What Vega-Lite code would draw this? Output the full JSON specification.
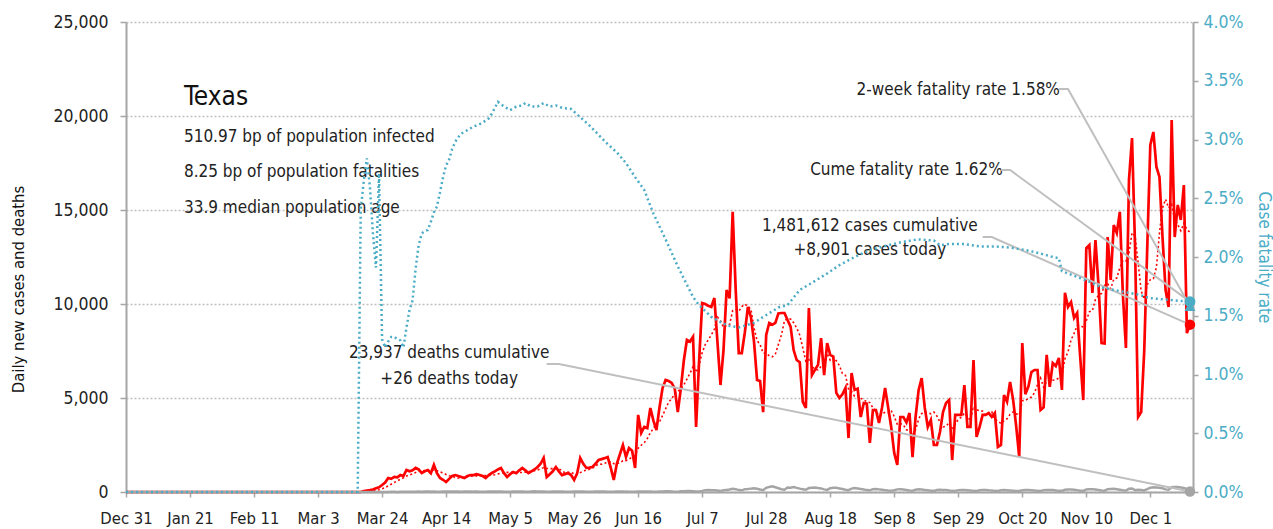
{
"$schema":"https://vega.github.io/schema/vega-lite/v6.json",
"width":1067,"height":470,
"autosize":{"type":"none"},
"padding":{"left":126,"top":22,"right":80,"bottom":37},
"background":"white",
"config":{"font":"DejaVu Sans Condensed, DejaVu Sans, sans-serif","view":{"stroke":null}},
"datasets":{
"daily":[
{"date":"2019-12-31","cases":0,"deaths":0},{"date":"2020-02-01","cases":0,"deaths":0},{"date":"2020-03-01","cases":0,"deaths":0},{"date":"2020-03-10","cases":0,"deaths":0},{"date":"2020-03-17","cases":0,"deaths":0},
{"date":"2020-03-18","cases":50,"deaths":0},{"date":"2020-03-19","cases":80,"deaths":1},{"date":"2020-03-20","cases":100,"deaths":2},{"date":"2020-03-21","cases":130,"deaths":1},{"date":"2020-03-22","cases":200,"deaths":3},{"date":"2020-03-23","cases":250,"deaths":2},{"date":"2020-03-24","cases":370,"deaths":5},{"date":"2020-03-25","cases":500,"deaths":4},{"date":"2020-03-26","cases":745,"deaths":6},{"date":"2020-03-27","cases":700,"deaths":7},{"date":"2020-03-28","cases":800,"deaths":8},{"date":"2020-03-29","cases":780,"deaths":5},{"date":"2020-03-30","cases":900,"deaths":10},{"date":"2020-03-31","cases":850,"deaths":12},
{"date":"2020-04-01","cases":1170,"deaths":10},{"date":"2020-04-02","cases":1100,"deaths":14},{"date":"2020-04-03","cases":1150,"deaths":12},{"date":"2020-04-04","cases":1280,"deaths":15},{"date":"2020-04-05","cases":1200,"deaths":20},{"date":"2020-04-06","cases":1010,"deaths":18},{"date":"2020-04-07","cases":1100,"deaths":22},{"date":"2020-04-08","cases":1170,"deaths":25},{"date":"2020-04-09","cases":1000,"deaths":20},{"date":"2020-04-10","cases":1440,"deaths":27},{"date":"2020-04-11","cases":1000,"deaths":15},{"date":"2020-04-12","cases":745,"deaths":12},{"date":"2020-04-13","cases":650,"deaths":23},{"date":"2020-04-14","cases":530,"deaths":25},{"date":"2020-04-15","cases":700,"deaths":24},{"date":"2020-04-16","cases":850,"deaths":28},{"date":"2020-04-17","cases":900,"deaths":22},{"date":"2020-04-18","cases":850,"deaths":20},{"date":"2020-04-19","cases":800,"deaths":14},{"date":"2020-04-20","cases":745,"deaths":25},{"date":"2020-04-21","cases":850,"deaths":24},{"date":"2020-04-22","cases":900,"deaths":28},{"date":"2020-04-23","cases":900,"deaths":20},{"date":"2020-04-24","cases":950,"deaths":25},{"date":"2020-04-25","cases":900,"deaths":18},{"date":"2020-04-26","cases":850,"deaths":12},{"date":"2020-04-27","cases":745,"deaths":15},{"date":"2020-04-28","cases":900,"deaths":32},{"date":"2020-04-29","cases":1010,"deaths":30},{"date":"2020-04-30","cases":1100,"deaths":28},
{"date":"2020-05-01","cases":1200,"deaths":25},{"date":"2020-05-02","cases":1280,"deaths":28},{"date":"2020-05-03","cases":1000,"deaths":15},{"date":"2020-05-04","cases":800,"deaths":12},{"date":"2020-05-05","cases":950,"deaths":20},{"date":"2020-05-06","cases":1060,"deaths":30},{"date":"2020-05-07","cases":1000,"deaths":32},{"date":"2020-05-08","cases":1150,"deaths":28},{"date":"2020-05-09","cases":1280,"deaths":25},{"date":"2020-05-10","cases":1150,"deaths":12},{"date":"2020-05-11","cases":1010,"deaths":15},{"date":"2020-05-12","cases":1100,"deaths":30},{"date":"2020-05-13","cases":1200,"deaths":35},{"date":"2020-05-14","cases":1330,"deaths":28},{"date":"2020-05-15","cases":1500,"deaths":32},{"date":"2020-05-16","cases":1810,"deaths":22},{"date":"2020-05-17","cases":800,"deaths":12},{"date":"2020-05-18","cases":950,"deaths":20},{"date":"2020-05-19","cases":1100,"deaths":28},{"date":"2020-05-20","cases":1330,"deaths":25},{"date":"2020-05-21","cases":1100,"deaths":30},{"date":"2020-05-22","cases":900,"deaths":22},{"date":"2020-05-23","cases":950,"deaths":15},{"date":"2020-05-24","cases":1010,"deaths":10},{"date":"2020-05-25","cases":900,"deaths":12},{"date":"2020-05-26","cases":640,"deaths":30},{"date":"2020-05-27","cases":1000,"deaths":28},{"date":"2020-05-28","cases":1810,"deaths":25},{"date":"2020-05-29","cases":1500,"deaths":22},{"date":"2020-05-30","cases":1280,"deaths":18},{"date":"2020-05-31","cases":1300,"deaths":15},
{"date":"2020-06-01","cases":1330,"deaths":12},{"date":"2020-06-02","cases":1500,"deaths":25},{"date":"2020-06-03","cases":1700,"deaths":30},{"date":"2020-06-04","cases":1750,"deaths":28},{"date":"2020-06-05","cases":1800,"deaths":22},{"date":"2020-06-06","cases":1860,"deaths":18},{"date":"2020-06-07","cases":1300,"deaths":10},{"date":"2020-06-08","cases":640,"deaths":15},{"date":"2020-06-09","cases":1500,"deaths":30},{"date":"2020-06-10","cases":2000,"deaths":25},{"date":"2020-06-11","cases":2500,"deaths":28},{"date":"2020-06-12","cases":1860,"deaths":20},{"date":"2020-06-13","cases":2340,"deaths":18},{"date":"2020-06-14","cases":2200,"deaths":12},{"date":"2020-06-15","cases":1280,"deaths":10},{"date":"2020-06-16","cases":4100,"deaths":30},{"date":"2020-06-17","cases":3140,"deaths":28},{"date":"2020-06-18","cases":3460,"deaths":32},{"date":"2020-06-19","cases":3400,"deaths":25},{"date":"2020-06-20","cases":4470,"deaths":20},{"date":"2020-06-21","cases":3800,"deaths":15},{"date":"2020-06-22","cases":3300,"deaths":12},{"date":"2020-06-23","cases":4500,"deaths":30},{"date":"2020-06-24","cases":5530,"deaths":32},{"date":"2020-06-25","cases":5960,"deaths":35},{"date":"2020-06-26","cases":5900,"deaths":40},{"date":"2020-06-27","cases":5800,"deaths":28},{"date":"2020-06-28","cases":5500,"deaths":10},{"date":"2020-06-29","cases":4250,"deaths":15},{"date":"2020-06-30","cases":5500,"deaths":40},
{"date":"2020-07-01","cases":7020,"deaths":45},{"date":"2020-07-02","cases":8090,"deaths":50},{"date":"2020-07-03","cases":8000,"deaths":48},{"date":"2020-07-04","cases":8250,"deaths":40},{"date":"2020-07-05","cases":3460,"deaths":25},{"date":"2020-07-06","cases":7000,"deaths":30},{"date":"2020-07-07","cases":10050,"deaths":60},{"date":"2020-07-08","cases":10000,"deaths":95},{"date":"2020-07-09","cases":9900,"deaths":105},{"date":"2020-07-10","cases":9840,"deaths":95},{"date":"2020-07-11","cases":10320,"deaths":90},{"date":"2020-07-12","cases":8000,"deaths":80},{"date":"2020-07-13","cases":5690,"deaths":60},{"date":"2020-07-14","cases":7550,"deaths":90},{"date":"2020-07-15","cases":10740,"deaths":110},{"date":"2020-07-16","cases":10300,"deaths":130},{"date":"2020-07-17","cases":14900,"deaths":175},{"date":"2020-07-18","cases":10740,"deaths":150},{"date":"2020-07-19","cases":7390,"deaths":100},{"date":"2020-07-20","cases":7390,"deaths":90},{"date":"2020-07-21","cases":8500,"deaths":150},{"date":"2020-07-22","cases":9840,"deaths":160},{"date":"2020-07-23","cases":9300,"deaths":180},{"date":"2020-07-24","cases":8000,"deaths":200},{"date":"2020-07-25","cases":5960,"deaths":170},{"date":"2020-07-26","cases":5900,"deaths":130},{"date":"2020-07-27","cases":4250,"deaths":95},{"date":"2020-07-28","cases":8350,"deaths":220},{"date":"2020-07-29","cases":8990,"deaths":270},{"date":"2020-07-30","cases":8900,"deaths":300},{"date":"2020-07-31","cases":9000,"deaths":250},
{"date":"2020-08-01","cases":9500,"deaths":200},{"date":"2020-08-02","cases":9520,"deaths":150},{"date":"2020-08-03","cases":9520,"deaths":120},{"date":"2020-08-04","cases":9150,"deaths":240},{"date":"2020-08-05","cases":8800,"deaths":230},{"date":"2020-08-06","cases":7550,"deaths":260},{"date":"2020-08-07","cases":7020,"deaths":220},{"date":"2020-08-08","cases":6900,"deaths":180},{"date":"2020-08-09","cases":4790,"deaths":150},{"date":"2020-08-10","cases":4470,"deaths":120},{"date":"2020-08-11","cases":9790,"deaths":210},{"date":"2020-08-12","cases":6220,"deaths":230},{"date":"2020-08-13","cases":6500,"deaths":240},{"date":"2020-08-14","cases":6760,"deaths":210},{"date":"2020-08-15","cases":8190,"deaths":190},{"date":"2020-08-16","cases":6220,"deaths":140},{"date":"2020-08-17","cases":7920,"deaths":110},{"date":"2020-08-18","cases":7290,"deaths":200},{"date":"2020-08-19","cases":7200,"deaths":230},{"date":"2020-08-20","cases":5270,"deaths":220},{"date":"2020-08-21","cases":5000,"deaths":190},{"date":"2020-08-22","cases":5200,"deaths":160},{"date":"2020-08-23","cases":5530,"deaths":120},{"date":"2020-08-24","cases":2870,"deaths":100},{"date":"2020-08-25","cases":6330,"deaths":180},{"date":"2020-08-26","cases":5430,"deaths":210},{"date":"2020-08-27","cases":5500,"deaths":190},{"date":"2020-08-28","cases":3990,"deaths":160},{"date":"2020-08-29","cases":4730,"deaths":130},{"date":"2020-08-30","cases":4700,"deaths":100},{"date":"2020-08-31","cases":2610,"deaths":90},
{"date":"2020-09-01","cases":4360,"deaths":150},{"date":"2020-09-02","cases":4360,"deaths":160},{"date":"2020-09-03","cases":3670,"deaths":140},{"date":"2020-09-04","cases":4500,"deaths":120},{"date":"2020-09-05","cases":5530,"deaths":100},{"date":"2020-09-06","cases":4500,"deaths":80},{"date":"2020-09-07","cases":3460,"deaths":70},{"date":"2020-09-08","cases":2070,"deaths":90},{"date":"2020-09-09","cases":1440,"deaths":140},{"date":"2020-09-10","cases":3990,"deaths":150},{"date":"2020-09-11","cases":3990,"deaths":130},{"date":"2020-09-12","cases":3700,"deaths":110},{"date":"2020-09-13","cases":4200,"deaths":80},{"date":"2020-09-14","cases":1860,"deaths":70},{"date":"2020-09-15","cases":3990,"deaths":120},{"date":"2020-09-16","cases":5430,"deaths":140},{"date":"2020-09-17","cases":6060,"deaths":130},{"date":"2020-09-18","cases":4500,"deaths":110},{"date":"2020-09-19","cases":3460,"deaths":90},{"date":"2020-09-20","cases":3830,"deaths":70},{"date":"2020-09-21","cases":2500,"deaths":60},{"date":"2020-09-22","cases":2500,"deaths":110},{"date":"2020-09-23","cases":3190,"deaths":120},{"date":"2020-09-24","cases":4250,"deaths":110},{"date":"2020-09-25","cases":4730,"deaths":100},{"date":"2020-09-26","cases":4890,"deaths":80},{"date":"2020-09-27","cases":1700,"deaths":60},{"date":"2020-09-28","cases":4100,"deaths":50},{"date":"2020-09-29","cases":4100,"deaths":100},{"date":"2020-09-30","cases":4100,"deaths":110},
{"date":"2020-10-01","cases":5690,"deaths":100},{"date":"2020-10-02","cases":3460,"deaths":90},{"date":"2020-10-03","cases":3460,"deaths":80},{"date":"2020-10-04","cases":7020,"deaths":60},{"date":"2020-10-05","cases":2930,"deaths":50},{"date":"2020-10-06","cases":3460,"deaths":90},{"date":"2020-10-07","cases":4100,"deaths":100},{"date":"2020-10-08","cases":4100,"deaths":110},{"date":"2020-10-09","cases":4200,"deaths":90},{"date":"2020-10-10","cases":4000,"deaths":80},{"date":"2020-10-11","cases":4200,"deaths":60},{"date":"2020-10-12","cases":2400,"deaths":50},{"date":"2020-10-13","cases":2500,"deaths":90},{"date":"2020-10-14","cases":5160,"deaths":100},{"date":"2020-10-15","cases":4800,"deaths":95},{"date":"2020-10-16","cases":5850,"deaths":85},{"date":"2020-10-17","cases":4900,"deaths":70},{"date":"2020-10-18","cases":3500,"deaths":55},{"date":"2020-10-19","cases":1860,"deaths":50},{"date":"2020-10-20","cases":7920,"deaths":95},{"date":"2020-10-21","cases":5200,"deaths":100},{"date":"2020-10-22","cases":5600,"deaths":100},{"date":"2020-10-23","cases":6380,"deaths":90},{"date":"2020-10-24","cases":6490,"deaths":80},{"date":"2020-10-25","cases":6490,"deaths":60},{"date":"2020-10-26","cases":4360,"deaths":50},{"date":"2020-10-27","cases":4500,"deaths":100},{"date":"2020-10-28","cases":7290,"deaths":110},{"date":"2020-10-29","cases":5590,"deaths":110},{"date":"2020-10-30","cases":6860,"deaths":100},{"date":"2020-10-31","cases":6700,"deaths":80},
{"date":"2020-11-01","cases":7130,"deaths":60},{"date":"2020-11-02","cases":5430,"deaths":60},{"date":"2020-11-03","cases":10600,"deaths":120},{"date":"2020-11-04","cases":9840,"deaths":130},{"date":"2020-11-05","cases":10100,"deaths":130},{"date":"2020-11-06","cases":9260,"deaths":120},{"date":"2020-11-07","cases":9520,"deaths":100},{"date":"2020-11-08","cases":7180,"deaths":70},{"date":"2020-11-09","cases":4890,"deaths":60},{"date":"2020-11-10","cases":12980,"deaths":130},{"date":"2020-11-11","cases":13140,"deaths":140},{"date":"2020-11-12","cases":10590,"deaths":150},{"date":"2020-11-13","cases":13400,"deaths":130},{"date":"2020-11-14","cases":11000,"deaths":110},{"date":"2020-11-15","cases":7920,"deaths":80},{"date":"2020-11-16","cases":7900,"deaths":70},{"date":"2020-11-17","cases":13560,"deaths":150},{"date":"2020-11-18","cases":11280,"deaths":160},{"date":"2020-11-19","cases":14200,"deaths":170},{"date":"2020-11-20","cases":13780,"deaths":150},{"date":"2020-11-21","cases":14900,"deaths":120},{"date":"2020-11-22","cases":10500,"deaths":90},{"date":"2020-11-23","cases":7660,"deaths":80},{"date":"2020-11-24","cases":16600,"deaths":170},{"date":"2020-11-25","cases":18830,"deaths":190},{"date":"2020-11-26","cases":13000,"deaths":100},{"date":"2020-11-27","cases":3990,"deaths":120},{"date":"2020-11-28","cases":4250,"deaths":110},{"date":"2020-11-29","cases":7500,"deaths":80},{"date":"2020-11-30","cases":13030,"deaths":150},
{"date":"2020-12-01","cases":18460,"deaths":230},{"date":"2020-12-02","cases":19150,"deaths":250},{"date":"2020-12-03","cases":17290,"deaths":240},{"date":"2020-12-04","cases":16760,"deaths":220},{"date":"2020-12-05","cases":13560,"deaths":200},{"date":"2020-12-06","cases":10740,"deaths":140},{"date":"2020-12-07","cases":9840,"deaths":120},{"date":"2020-12-08","cases":19790,"deaths":250},{"date":"2020-12-09","cases":13560,"deaths":270},{"date":"2020-12-10","cases":15270,"deaths":260},{"date":"2020-12-11","cases":14470,"deaths":240},{"date":"2020-12-12","cases":16330,"deaths":210},{"date":"2020-12-13","cases":8450,"deaths":150},{"date":"2020-12-14","cases":8901,"deaths":26}
],
"cfr":[
{"date":"2019-12-31","cfr":0},{"date":"2020-03-16","cfr":0},{"date":"2020-03-17","cfr":0.024},{"date":"2020-03-18","cfr":0.0265},{"date":"2020-03-19","cfr":0.0284},{"date":"2020-03-20","cfr":0.026},{"date":"2020-03-21","cfr":0.022},{"date":"2020-03-22","cfr":0.0191},{"date":"2020-03-23","cfr":0.0271},{"date":"2020-03-24","cfr":0.013},{"date":"2020-03-25","cfr":0.0123},{"date":"2020-03-26","cfr":0.0128},{"date":"2020-03-27","cfr":0.0132},{"date":"2020-03-28","cfr":0.0132},{"date":"2020-03-29","cfr":0.013},{"date":"2020-03-30","cfr":0.0129},{"date":"2020-03-31","cfr":0.0123},
{"date":"2020-04-01","cfr":0.014},{"date":"2020-04-02","cfr":0.0155},{"date":"2020-04-03","cfr":0.0163},{"date":"2020-04-04","cfr":0.019},{"date":"2020-04-05","cfr":0.021},{"date":"2020-04-06","cfr":0.022},{"date":"2020-04-07","cfr":0.0222},{"date":"2020-04-08","cfr":0.0223},{"date":"2020-04-09","cfr":0.023},{"date":"2020-04-10","cfr":0.0238},{"date":"2020-04-11","cfr":0.0243},{"date":"2020-04-12","cfr":0.0255},{"date":"2020-04-13","cfr":0.0268},{"date":"2020-04-14","cfr":0.0278},{"date":"2020-04-15","cfr":0.0283},{"date":"2020-04-16","cfr":0.0292},{"date":"2020-04-17","cfr":0.0298},{"date":"2020-04-18","cfr":0.0302},{"date":"2020-04-19","cfr":0.0305},{"date":"2020-04-21","cfr":0.0308},{"date":"2020-04-23","cfr":0.0311},{"date":"2020-04-25","cfr":0.0313},{"date":"2020-04-27","cfr":0.0316},{"date":"2020-04-28","cfr":0.0318},{"date":"2020-04-29","cfr":0.0322},
{"date":"2020-05-01","cfr":0.0332},{"date":"2020-05-03","cfr":0.0328},{"date":"2020-05-05","cfr":0.0325},{"date":"2020-05-07","cfr":0.0328},{"date":"2020-05-09","cfr":0.0329},{"date":"2020-05-10","cfr":0.0331},{"date":"2020-05-12","cfr":0.0328},{"date":"2020-05-14","cfr":0.0328},{"date":"2020-05-16","cfr":0.0331},{"date":"2020-05-18","cfr":0.0328},{"date":"2020-05-20","cfr":0.0329},{"date":"2020-05-22","cfr":0.0327},{"date":"2020-05-25","cfr":0.0326},{"date":"2020-05-28","cfr":0.0319},{"date":"2020-05-31","cfr":0.0312},
{"date":"2020-06-03","cfr":0.0304},{"date":"2020-06-06","cfr":0.0296},{"date":"2020-06-09","cfr":0.0289},{"date":"2020-06-12","cfr":0.028},{"date":"2020-06-15","cfr":0.0268},{"date":"2020-06-18","cfr":0.0257},{"date":"2020-06-21","cfr":0.0237},{"date":"2020-06-25","cfr":0.0215},{"date":"2020-06-29","cfr":0.0192},{"date":"2020-07-04","cfr":0.0166},{"date":"2020-07-06","cfr":0.0159},{"date":"2020-07-10","cfr":0.0149},{"date":"2020-07-15","cfr":0.0142},{"date":"2020-07-19","cfr":0.014},{"date":"2020-07-24","cfr":0.0144},{"date":"2020-07-27","cfr":0.0149},
{"date":"2020-08-01","cfr":0.0157},{"date":"2020-08-04","cfr":0.0159},{"date":"2020-08-08","cfr":0.0172},{"date":"2020-08-12","cfr":0.0178},{"date":"2020-08-17","cfr":0.0186},{"date":"2020-08-21","cfr":0.0193},{"date":"2020-08-26","cfr":0.02},{"date":"2020-08-31","cfr":0.0206},{"date":"2020-09-06","cfr":0.021},{"date":"2020-09-11","cfr":0.0213},{"date":"2020-09-16","cfr":0.0215},{"date":"2020-09-21","cfr":0.0214},{"date":"2020-09-23","cfr":0.021},{"date":"2020-09-26","cfr":0.0211},{"date":"2020-10-01","cfr":0.0211},{"date":"2020-10-06","cfr":0.0209},{"date":"2020-10-11","cfr":0.0209},{"date":"2020-10-16","cfr":0.0208},{"date":"2020-10-21","cfr":0.0206},{"date":"2020-10-26","cfr":0.0203},{"date":"2020-10-30","cfr":0.02},
{"date":"2020-11-01","cfr":0.0199},{"date":"2020-11-02","cfr":0.0188},{"date":"2020-11-04","cfr":0.0186},{"date":"2020-11-07","cfr":0.0183},{"date":"2020-11-11","cfr":0.0179},{"date":"2020-11-15","cfr":0.0174},{"date":"2020-11-19","cfr":0.0172},{"date":"2020-11-23","cfr":0.017},{"date":"2020-11-27","cfr":0.0168},{"date":"2020-12-01","cfr":0.0165},{"date":"2020-12-05","cfr":0.0164},{"date":"2020-12-09","cfr":0.0163},{"date":"2020-12-14","cfr":0.0162}
],
"leadL":[
{"g":"deaths","date":"2020-05-17","v":6810},{"g":"deaths","date":"2020-05-21","v":6810},{"g":"deaths","date":"2020-12-14","v":26},
{"g":"cases","date":"2020-10-07","v":13560},{"g":"cases","date":"2020-10-10","v":13560},{"g":"cases","date":"2020-12-14","v":8901}
],
"leadR":[
{"g":"cume","date":"2020-10-13","v":0.0274},{"g":"cume","date":"2020-10-16","v":0.0274},{"g":"cume","date":"2020-12-14","v":0.0162},
{"g":"twoweek","date":"2020-11-01","v":0.0343},{"g":"twoweek","date":"2020-11-04","v":0.0343},{"g":"twoweek","date":"2020-12-14","v":0.0158}
],
"endsL":[{"kind":"cases","date":"2020-12-14","v":8901},{"kind":"deaths","date":"2020-12-14","v":26}],
"endsR":[{"kind":"cume","date":"2020-12-14","v":0.0162},{"kind":"twoweek","date":"2020-12-14","v":0.0158}],
"heading":[{"date":"2020-01-19","v":21010,"label":"Texas"}],
"notesLeft":[
{"date":"2020-01-19","v":18883,"label":"510.97 bp of population infected"},
{"date":"2020-01-19","v":17021,"label":"8.25 bp of population fatalities"},
{"date":"2020-01-19","v":15106,"label":"33.9 median population age"}
],
"notesCenter":[
{"date":"2020-08-31","v":14149,"label":"1,481,612 cases cumulative"},
{"date":"2020-08-31","v":12872,"label":"+8,901 cases today"},
{"date":"2020-04-15","v":7394,"label":"23,937 deaths cumulative"},
{"date":"2020-04-15","v":6010,"label":"+26 deaths today"},
{"date":"2020-09-29","v":21383,"label":"2-week fatality rate 1.58%"},
{"date":"2020-09-12","v":17128,"label":"Cume fatality rate 1.62%"}
]
},
"encoding":{
"x":{"field":"date","type":"temporal","scale":{"type":"utc","domain":[{"year":2019,"month":12,"date":31,"utc":true},{"year":2020,"month":12,"date":15,"utc":true}]},
"axis":{"values":[{"year":2019,"month":12,"date":31,"utc":true},{"year":2020,"month":1,"date":21,"utc":true},{"year":2020,"month":2,"date":11,"utc":true},{"year":2020,"month":3,"date":3,"utc":true},{"year":2020,"month":3,"date":24,"utc":true},{"year":2020,"month":4,"date":14,"utc":true},{"year":2020,"month":5,"date":5,"utc":true},{"year":2020,"month":5,"date":26,"utc":true},{"year":2020,"month":6,"date":16,"utc":true},{"year":2020,"month":7,"date":7,"utc":true},{"year":2020,"month":7,"date":28,"utc":true},{"year":2020,"month":8,"date":18,"utc":true},{"year":2020,"month":9,"date":8,"utc":true},{"year":2020,"month":9,"date":29,"utc":true},{"year":2020,"month":10,"date":20,"utc":true},{"year":2020,"month":11,"date":10,"utc":true},{"year":2020,"month":12,"date":1,"utc":true}],
"labelExpr":"utcFormat(datum.value, '%b %-d')","title":null,"grid":false,"labelFontSize":16.5,"labelColor":"#222222","labelPadding":13,"tickSize":5,"tickColor":"#a6a6a6","tickWidth":1.5,"domainColor":"#a6a6a6","domainWidth":2,"labelOverlap":false,"labelFlush":false}}
},
"layer":[
{"layer":[
{"data":{"name":"daily"},"mark":{"type":"line","color":"#ff0000","strokeWidth":2.7},
"encoding":{"y":{"field":"cases","type":"quantitative","scale":{"domain":[0,25000],"nice":false},
"axis":{"values":[0,5000,10000,15000,20000,25000],"labelExpr":"format(datum.value, ',')","title":"Daily new cases and deaths","grid":true,"gridDash":[2,2],"gridColor":"#bfbfbf","gridWidth":1.3,"domainColor":"#a6a6a6","domainWidth":2,"tickSize":6,"tickColor":"#a6a6a6","tickWidth":1.5,"labelPadding":12,"labelFontSize":17.5,"labelColor":"#222222","titleFontSize":16.5,"titleFontWeight":"normal","titleColor":"#111111","titleAngle":-90,"titleX":-108,"titleY":267,"titleAlign":"center","titleBaseline":"middle"}}}},
{"data":{"name":"daily"},"transform":[{"window":[{"op":"mean","field":"cases","as":"avg"}],"frame":[-6,0],"sort":[{"field":"date"}]}],
"mark":{"type":"line","color":"#ff0000","strokeWidth":1.6,"strokeDash":[2,2.5]},
"encoding":{"y":{"field":"avg","type":"quantitative"}}},
{"data":{"name":"daily"},"mark":{"type":"line","color":"#a5a5a5","strokeWidth":2.5},
"encoding":{"y":{"field":"deaths","type":"quantitative"}}},
{"data":{"name":"leadL"},"mark":{"type":"line","color":"#bfbfbf","strokeWidth":2},
"encoding":{"y":{"field":"v","type":"quantitative"},"detail":{"field":"g"}}},
{"data":{"name":"endsL"},"mark":{"type":"circle","size":110,"opacity":1},
"encoding":{"y":{"field":"v","type":"quantitative"},"color":{"field":"kind","type":"nominal","scale":{"domain":["cases","deaths"],"range":["#ff0000","#a5a5a5"]},"legend":null}}},
{"data":{"name":"heading"},"mark":{"type":"text","align":"left","baseline":"middle","fontSize":26,"color":"#111111"},
"encoding":{"y":{"field":"v","type":"quantitative"},"text":{"field":"label"}}},
{"data":{"name":"notesLeft"},"mark":{"type":"text","align":"left","baseline":"middle","fontSize":17,"color":"#222222"},
"encoding":{"y":{"field":"v","type":"quantitative"},"text":{"field":"label"}}},
{"data":{"name":"notesCenter"},"mark":{"type":"text","align":"center","baseline":"middle","fontSize":17,"color":"#222222"},
"encoding":{"y":{"field":"v","type":"quantitative"},"text":{"field":"label"}}}
]},
{"layer":[
{"data":{"name":"cfr"},"mark":{"type":"line","color":"#4bacc6","strokeWidth":2.5,"strokeDash":[2,3]},
"encoding":{"y":{"field":"cfr","type":"quantitative","scale":{"domain":[0,0.04],"nice":false},
"axis":{"orient":"right","values":[0,0.005,0.01,0.015,0.02,0.025,0.03,0.035,0.04],"format":".1%","grid":false,"title":"Case fatality rate","labelFontSize":17.5,"labelColor":"#4bacc6","labelPadding":5,"tickSize":5,"tickColor":"#a6a6a6","tickWidth":1.5,"domainColor":"#a6a6a6","domainWidth":2,"titleFontSize":17,"titleFontWeight":"normal","titleColor":"#4bacc6","titleAngle":90,"titleX":70,"titleY":235,"titleAlign":"center","titleBaseline":"middle"}}}},
{"data":{"name":"leadR"},"mark":{"type":"line","color":"#bfbfbf","strokeWidth":2},
"encoding":{"y":{"field":"v","type":"quantitative"},"detail":{"field":"g"}}},
{"data":{"name":"endsR"},"mark":{"type":"point","filled":true,"size":120,"opacity":1,"color":"#4bacc6"},
"encoding":{"y":{"field":"v","type":"quantitative"},"shape":{"field":"kind","type":"nominal","scale":{"domain":["cume","twoweek"],"range":["circle","triangle-up"]},"legend":null}}}
]}
],
"resolve":{"scale":{"y":"independent"}}
}
